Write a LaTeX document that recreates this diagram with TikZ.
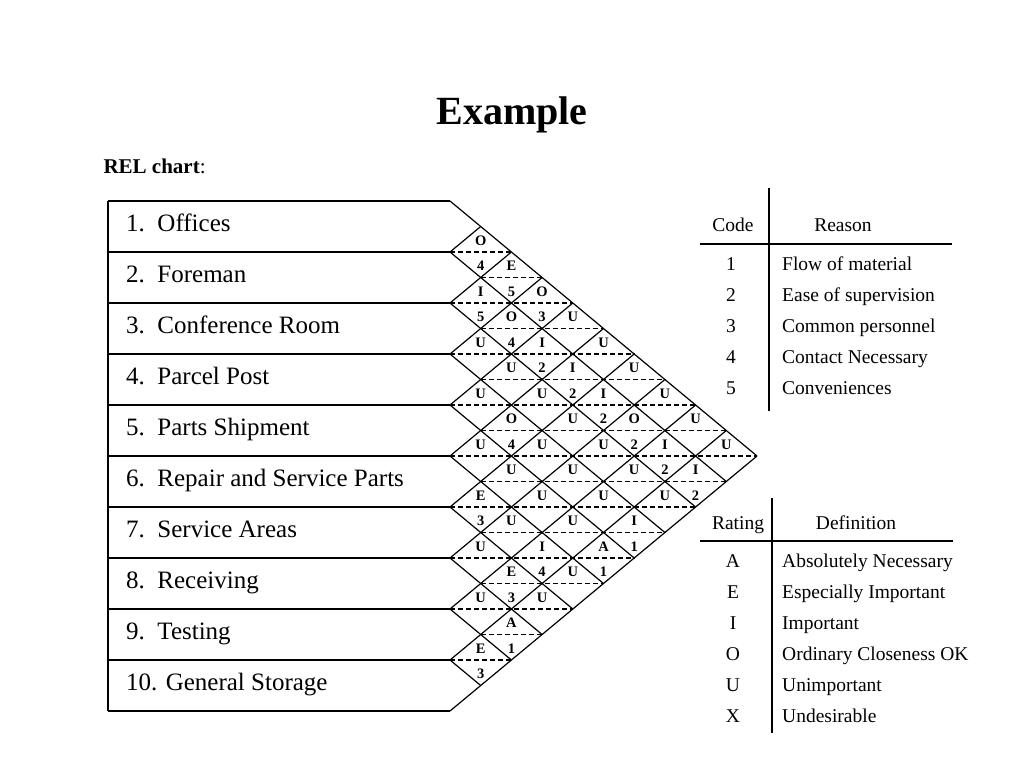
\documentclass[tikz,border=0pt]{standalone}
\usepackage{fontspec}
\setmainfont{Liberation Serif}
\usetikzlibrary{positioning}

\begin{document}
\begin{tikzpicture}[x=1pt,y=-1pt,
  rowlabel/.style={anchor=base west,inner sep=0pt,font=\fontsize{25}{30}\selectfont},
  relmark/.style={inner sep=0pt,text height=9.6pt,text depth=0pt,font=\fontsize{14.5}{17}\selectfont\bfseries},
  tabtext/.style={inner sep=0pt,text height=12.9pt,text depth=0pt,font=\fontsize{19.5}{23}\selectfont},
  gridline/.style={line width=1.2pt},
  midline/.style={dash pattern=on 5pt off 3pt,line width=1.1pt}
]
\useasboundingbox (0,0) rectangle (1024,768);

\node [font=\fontsize{40}{48}\selectfont\bfseries] (title) at (512,115) {Example} ;
\node [anchor=west,font=\fontsize{21}{25}\selectfont] (chart label) at (100,166) {\textbf{REL chart}:} ;

% department rows
\draw[gridline] (108,201) -- (108,711);
\foreach \k in {0,...,10}
  \draw[gridline] (108,{201+51*\k}) -- (450,{201+51*\k});
\foreach \n/\t [count=\k from 0] in {1/Offices,2/Foreman,3/Conference Room,4/Parcel Post,5/Parts Shipment,6/Repair and Service Parts,7/Service Areas,8/Receiving,9/Testing}
  \node [rowlabel] (dept-\n) at (126,{231+51*\k}) {\n.\ \ \t} ;
\node [rowlabel] (dept-10) at (126,{231+51*9}) {10. General Storage} ;

% diamond grid
\foreach \k in {0,...,10} {
  \draw[gridline] (450,{201+51*\k}) -- ++({30.7*(10-\k)},{25.5*(10-\k)});
  \draw[gridline] (450,{201+51*\k}) -- ++({30.7*\k},{-25.5*\k});
}
\foreach \s in {3,...,19} {
  \pgfmathsetmacro\dmax{min(\s-2,20-\s)}
  \draw[midline] ({450+30.7*(1-mod(\s,2))},{201+25.5*(\s-1)}) -- ({450+30.7*(\dmax+1)},{201+25.5*(\s-1)});
}

% closeness ratings
\foreach \i/\j/\r in {1/2/O,1/3/E,1/4/O,1/5/U,1/6/U,1/7/U,1/8/U,1/9/U,1/10/U,
    2/3/I,2/4/O,2/5/I,2/6/I,2/7/I,2/8/O,2/9/I,2/10/I,
    3/4/U,3/5/U,3/6/U,3/7/U,3/8/U,3/9/U,3/10/U,
    4/5/U,4/6/O,4/7/U,4/8/U,4/9/U,4/10/I,
    5/6/U,5/7/U,5/8/U,5/9/U,5/10/A,
    6/7/E,6/8/U,6/9/I,6/10/U,
    7/8/U,7/9/E,7/10/U,
    8/9/U,8/10/A,
    9/10/E}
  \node [relmark] (rate-\i-\j) at ({450+30.7*(\j-\i)},{201+25.5*(\i+\j-1)-11.5}) {\r} ;

% reason codes
\foreach \i/\j/\c in {1/2/4,1/3/5,1/4/3,2/3/5,2/4/4,2/5/2,2/6/2,2/7/2,2/8/2,2/9/2,2/10/2,
    4/6/4,4/10/1,5/10/1,6/7/3,6/9/4,7/9/3,8/10/1,9/10/3}
  \node [relmark] (code-\i-\j) at ({450+30.7*(\j-\i)},{201+25.5*(\i+\j-1)+14}) {\c} ;

% reason table
\draw[gridline] (769,188) -- (769,411);
\draw[gridline] (700,244) -- (952,244);
\node [tabtext] (code head) at (733,225) {Code} ;
\node [tabtext] (reason head) at (843,225) {Reason} ;
\foreach \n/\t [count=\k] in {1/Flow of material,2/Ease of supervision,3/Common personnel,4/Contact Necessary,5/Conveniences} {
  \node [tabtext] (reason code-\n) at (731,{233+31*\k}) {\n} ;
  \node [tabtext,anchor=west] (reason-\n) at (782,{233+31*\k}) {\t} ;
}

% rating table
\draw[gridline] (772,498) -- (772,733);
\draw[gridline] (700,541) -- (953,541);
\node [tabtext] (rating head) at (738,523) {Rating} ;
\node [tabtext] (definition head) at (856,523) {Definition} ;
\foreach \n/\t [count=\k] in {A/Absolutely Necessary,E/Especially Important,I/Important,O/Ordinary Closeness OK,U/Unimportant,X/Undesirable} {
  \node [tabtext] (rating-\n) at (733,{530+31*\k}) {\n} ;
  \node [tabtext,anchor=west] (definition-\n) at (782,{530+31*\k}) {\t} ;
}

\end{tikzpicture}
\end{document}
